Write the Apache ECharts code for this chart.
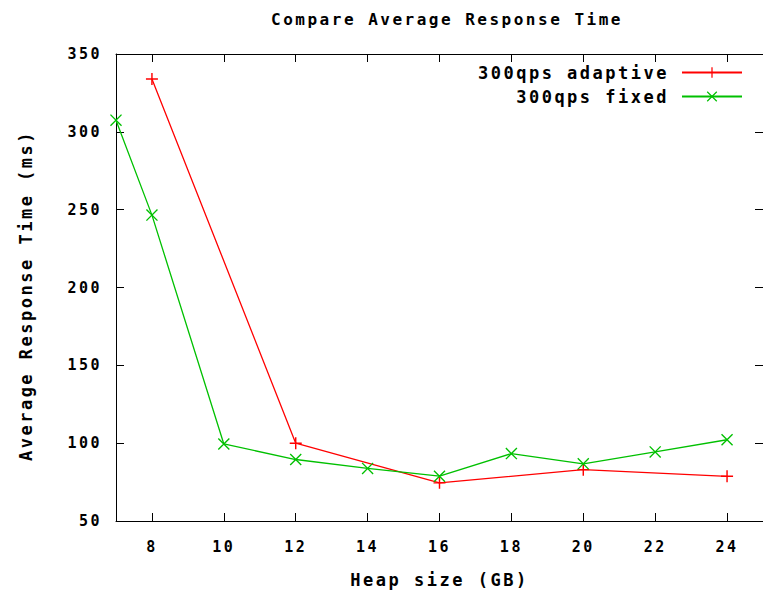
<!DOCTYPE html>
<html>
<head>
<meta charset="utf-8">
<script src="https://cdn.jsdelivr.net/npm/echarts@6/dist/echarts.min.js"></script>
<style>
html, body { margin: 0; padding: 0; background: #fff; }
#chart { width: 763px; height: 593px; }
#chart svg text { letter-spacing: 2.5px; }
</style>
</head>
<body>
<div id="chart"></div>
<script>
// ---- data ----
const titleText = 'Compare Average Response Time';
const xName = 'Heap size (GB)';
const yName = 'Average Response Time (ms)';
const adaptiveName = '300qps adaptive';
const fixedName = '300qps fixed';
const adaptiveX = [8, 12, 16, 20, 24];
const adaptiveY = [334, 100, 74.5, 83, 78.7];
const fixedX = [7, 8, 10, 12, 14, 16, 18, 20, 22, 24];
const fixedY = [307.5, 246.5, 99.5, 89.5, 83.8, 78.8, 93.3, 86.7, 94.4, 102.2];
const xTicks = [8, 10, 12, 14, 16, 18, 20, 22, 24];
const xMin = 7, xMax = 25;
const yMin = 50, yMax = 350, yStep = 50;

const FONT = '"DejaVu Sans Mono", monospace';
const plusPath = 'path://M4.4,0H5.6V10H4.4Z M0,4.4H10V5.6H0Z';
const crossPath = 'path://M0,0.8L0.8,0L10,9.2L9.2,10Z M9.2,0L10,0.8L0.8,10L0,9.2Z';

const chart = echarts.init(document.getElementById('chart'), null, { renderer: 'svg' });

const axisLineStyle = { color: '#000', width: 1 };
const baseX = {
  type: 'value', min: xMin, max: xMax,
  splitLine: { show: false },
  axisLine: { show: true, onZero: false, lineStyle: axisLineStyle },
  axisTick: { show: true, inside: true, length: 8, customValues: xTicks, lineStyle: axisLineStyle }
};
const baseY = {
  type: 'value', min: yMin, max: yMax, interval: yStep,
  splitLine: { show: false },
  axisLine: { show: true, onZero: false, lineStyle: axisLineStyle },
  axisTick: { show: true, inside: true, length: 8, lineStyle: axisLineStyle }
};

chart.setOption({
  animation: false,
  backgroundColor: '#fff',
  title: {
    text: titleText, left: 442, top: 6, textAlign: 'center',
    textStyle: { fontFamily: FONT, fontSize: 16, fontWeight: 'bold', color: '#000' }
  },
  legend: {
    orient: 'vertical', right: 20, top: 64, align: 'right', padding: 0,
    itemWidth: 60, itemHeight: 13, itemGap: 7,
    textStyle: { fontFamily: FONT, fontSize: 17, fontWeight: 'bold', color: '#000', padding: [0, 8, 0, 0] },
    data: [adaptiveName, fixedName]
  },
  grid: { left: 116, top: 54, width: 651, height: 468, containLabel: false },
  xAxis: [
    Object.assign({}, baseX, {
      position: 'bottom',
      name: xName, nameLocation: 'middle', nameGap: 50,
      nameTextStyle: { fontFamily: FONT, fontSize: 17, fontWeight: 'bold', color: '#000' },
      axisLabel: { show: true, customValues: xTicks, margin: 18, fontFamily: FONT, fontSize: 15, fontWeight: 'bold', color: '#000' }
    }),
    Object.assign({}, baseX, { position: 'top', axisLabel: { show: false } })
  ],
  yAxis: [
    Object.assign({}, baseY, {
      position: 'left',
      name: yName, nameLocation: 'middle', nameGap: 82, nameRotate: 90,
      nameTextStyle: { fontFamily: FONT, fontSize: 17, fontWeight: 'bold', color: '#000', padding: [0, 16, 0, 0] },
      axisLabel: { show: true, margin: 14, fontFamily: FONT, fontSize: 15, fontWeight: 'bold', color: '#000' }
    }),
    Object.assign({}, baseY, { position: 'right', axisLabel: { show: false } })
  ],
  series: [
    {
      name: adaptiveName, type: 'line', xAxisIndex: 0, yAxisIndex: 0,
      data: adaptiveX.map((x, i) => [x, adaptiveY[i]]),
      symbol: plusPath, symbolSize: 12, showAllSymbol: true,
      lineStyle: { color: '#ff0000', width: 1.3 },
      itemStyle: { color: '#ff0000' }
    },
    {
      name: fixedName, type: 'line', xAxisIndex: 0, yAxisIndex: 0,
      data: fixedX.map((x, i) => [x, fixedY[i]]),
      symbol: crossPath, symbolSize: 12, showAllSymbol: true,
      lineStyle: { color: '#00c000', width: 1.3 },
      itemStyle: { color: '#00c000' }
    }
  ]
});
</script>
</body>
</html>
